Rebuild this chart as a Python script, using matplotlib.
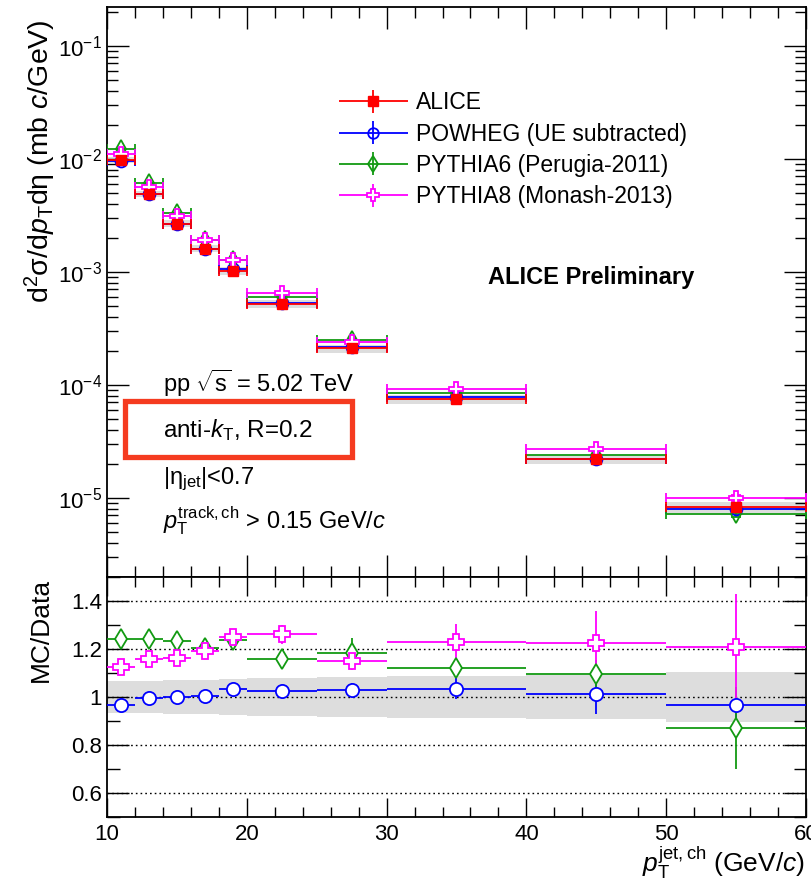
import numpy as np
import matplotlib
matplotlib.use('Agg')
import matplotlib.pyplot as plt
from matplotlib.patches import Rectangle
from matplotlib.container import ErrorbarContainer
from matplotlib.legend_handler import HandlerErrorbar
from matplotlib.ticker import FixedLocator, MultipleLocator, FuncFormatter, LogLocator

plt.rcParams['font.family'] = ['Liberation Sans', 'DejaVu Sans']
plt.rcParams['mathtext.fontset'] = 'custom'
plt.rcParams['mathtext.rm'] = 'Liberation Sans'
plt.rcParams['mathtext.it'] = 'Liberation Sans:italic'
plt.rcParams['mathtext.bf'] = 'Liberation Sans:bold'

# jet pT bins (GeV/c)
bin_lo = [10, 12, 14, 16, 18, 20, 25, 30, 40, 50]
bin_hi = [12, 14, 16, 18, 20, 25, 30, 40, 50, 60]

# ALICE cross section d2sigma/dpT deta (mb c/GeV)
alice = [9.8e-3, 4.9e-3, 2.66e-3, 1.6e-3, 1.02e-3, 5.2e-4, 2.1e-4, 7.5e-5, 2.2e-5, 8.3e-6]
alice_stat = [0.004, 0.005, 0.006, 0.007, 0.008, 0.008, 0.012, 0.015, 0.03, 0.05]
alice_sys = [0.065, 0.068, 0.07, 0.072, 0.075, 0.08, 0.083, 0.088, 0.093, 0.105]

# MC / Data ratios
ratio_pow = [0.966, 0.997, 1.000, 1.004, 1.034, 1.023, 1.030, 1.034, 1.011, 0.966]
err_pow = [0.012, 0.012, 0.012, 0.014, 0.016, 0.018, 0.028, 0.044, 0.08, 0.06]
ratio_py6 = [1.241, 1.241, 1.234, 1.203, 1.237, 1.158, 1.185, 1.120, 1.096, 0.871]
err_py6 = [0.015, 0.015, 0.015, 0.02, 0.03, 0.03, 0.059, 0.035, 0.06, 0.17]
ratio_py8 = [1.127, 1.158, 1.162, 1.193, 1.248, 1.262, 1.152, 1.230, 1.223, 1.210]
err_py8 = [0.02, 0.02, 0.02, 0.025, 0.03, 0.04, 0.038, 0.075, 0.137, 0.22]

lo = np.array(bin_lo, float)
hi = np.array(bin_hi, float)
x = 0.5 * (lo + hi)
xw = 0.5 * (hi - lo)
data = np.array(alice)
sys = np.array(alice_sys)

models = [
    ('POWHEG (UE subtracted)', ratio_pow, err_pow, 'o', '#0000ff', 9.5, 'none'),
    ('PYTHIA6 (Perugia-2011)', ratio_py6, err_py6, 'd', '#129a12', 10, 'none'),
    ('PYTHIA8 (Monash-2013)', ratio_py8, err_py8, 'P', '#ff00ff', 11, 'white'),
]

fig = plt.figure(figsize=(8.12, 8.84), dpi=100)
L, R = 107 / 812, 806 / 812
ax = fig.add_axes([L, 1 - 577 / 884, R - L, 570 / 884])
axr = fig.add_axes([L, 1 - 817 / 884, R - L, 240 / 884], sharex=ax)

# ---- top panel ----
ax.bar(x, 2 * sys * data, bottom=data * (1 - sys), width=2 * xw,
       color='#dddddd', edgecolor='none', zorder=1)
handles = []
for name, r, e, mk, col, ms, fc in models:
    r = np.array(r)
    ax.errorbar(x, data * r, xerr=xw, yerr=data * np.array(e) * 0.3, fmt=mk,
                color=col, mfc=fc, mec=col, ms=ms * 0.9, mew=1.3, lw=1.3,
                capsize=3.5, capthick=1.3, zorder=3)
    # legend proxy without caps
    h = ax.errorbar([np.nan], [np.nan], xerr=[1], yerr=[1], fmt=mk, color=col,
                    mfc=fc, mec=col, ms=ms * 0.8, mew=1.3, lw=1.3, capsize=0,
                    label=name)
    handles.append(h)
ax.errorbar(x, data, xerr=xw, yerr=data * np.array(alice_stat), fmt='s',
            color='#ff0000', ms=7.5, lw=1.3, capsize=3.5, capthick=1.3, zorder=4)
ha = ax.errorbar([np.nan], [np.nan], xerr=[1], yerr=[1], fmt='s', color='#ff0000',
                 ms=7, lw=1.3, capsize=0, label='ALICE')
handles.insert(0, ha)

ax.set_yscale('log')
ax.set_ylim(2e-6, 0.22)
ax.set_xlim(10, 60)
ax.yaxis.set_major_locator(LogLocator(base=10, numticks=20))
ax.yaxis.set_minor_locator(LogLocator(base=10, subs=np.arange(2, 10), numticks=20))
ax.tick_params(labelbottom=False)

leg = ax.legend(handles=handles, loc='upper left', bbox_to_anchor=(0.33, 0.852),
                frameon=False, fontsize=16.5, handlelength=3.1, handletextpad=0.3,
                labelspacing=0.36, borderpad=0, borderaxespad=0,
                handler_map={ErrorbarContainer: HandlerErrorbar(xerr_size=1.5,
                                                                yerr_size=0.5)})

ax.text(0.545, 0.526, 'ALICE Preliminary', transform=ax.transAxes, fontsize=17,
        fontweight='bold', va='center', ha='left')
ax.text(0.080, 0.340, r'pp $\sqrt{\mathrm{s}}$ = 5.02 TeV', transform=ax.transAxes,
        fontsize=17, va='center', ha='left')
ax.text(0.080, 0.258, r'anti-$k_{\mathrm{T}}$, R=0.2', transform=ax.transAxes,
        fontsize=17.5, va='center', ha='left')
ax.add_patch(Rectangle((0.026, 0.2105), 0.324, 0.0985, transform=ax.transAxes,
                       fill=False, edgecolor='#f53b20', lw=3.8, zorder=5))
ax.text(0.080, 0.172, r'|η$_{\mathrm{jet}}$|<0.7', transform=ax.transAxes,
        fontsize=17, va='center', ha='left')
ax.text(0.080, 0.098, r'$p_{\mathrm{T}}^{\mathrm{track,ch}}$ > 0.15 GeV/$c$',
        transform=ax.transAxes, fontsize=17, va='center', ha='left')

# ---- ratio panel ----
axr.bar(x, 2 * sys, bottom=1 - sys, width=2 * xw, color='#dddddd',
        edgecolor='none', zorder=1)
for yv in [0.6, 0.8, 1.0, 1.2, 1.4]:
    axr.axhline(yv, color='black', ls=(0, (1.2, 2.2)), lw=1.0, zorder=2)
for name, r, e, mk, col, ms, fc in models:
    axr.errorbar(x, r, xerr=xw, yerr=e, fmt=mk, color=col, mfc='white', mec=col,
                 ms=ms, mew=1.3, lw=1.3, capsize=0, zorder=3)
axr.set_ylim(0.5, 1.5)
axr.yaxis.set_major_locator(FixedLocator([0.6, 0.8, 1.0, 1.2, 1.4]))
axr.yaxis.set_minor_locator(MultipleLocator(0.1))
axr.yaxis.set_major_formatter(FuncFormatter(lambda v, p: '%g' % v))
axr.xaxis.set_major_locator(MultipleLocator(10))
axr.xaxis.set_minor_locator(MultipleLocator(2))

for a in (ax, axr):
    a.tick_params(which='both', direction='in', top=True, right=True,
                  labelsize=16, width=1.0)
    for s in a.spines.values():
        s.set_linewidth(1.3)
ax.tick_params(which='major', length=16)
ax.tick_params(which='minor', length=8)
axr.tick_params(axis='y', which='major', length=16)
axr.tick_params(axis='y', which='minor', length=9)
axr.tick_params(axis='x', which='major', length=14, pad=5)
axr.tick_params(axis='x', which='minor', length=7)

fig.text(40 / 812, 1 - 161 / 884,
         r'd$^{2}$σ/d$p_{\mathrm{T}}$dη (mb $c$/GeV)',
         rotation=90, ha='center', va='center', fontsize=20.5)
fig.text(41 / 812, 1 - 630 / 884, 'MC/Data', rotation=90, ha='center',
         va='center', fontsize=19)
fig.text(805 / 812, 1 - 872 / 884, r'$p_{\mathrm{T}}^{\mathrm{jet,ch}}$ (GeV/$c$)',
         ha='right', va='baseline', fontsize=19)

fig.savefig('out.png', dpi=100)
